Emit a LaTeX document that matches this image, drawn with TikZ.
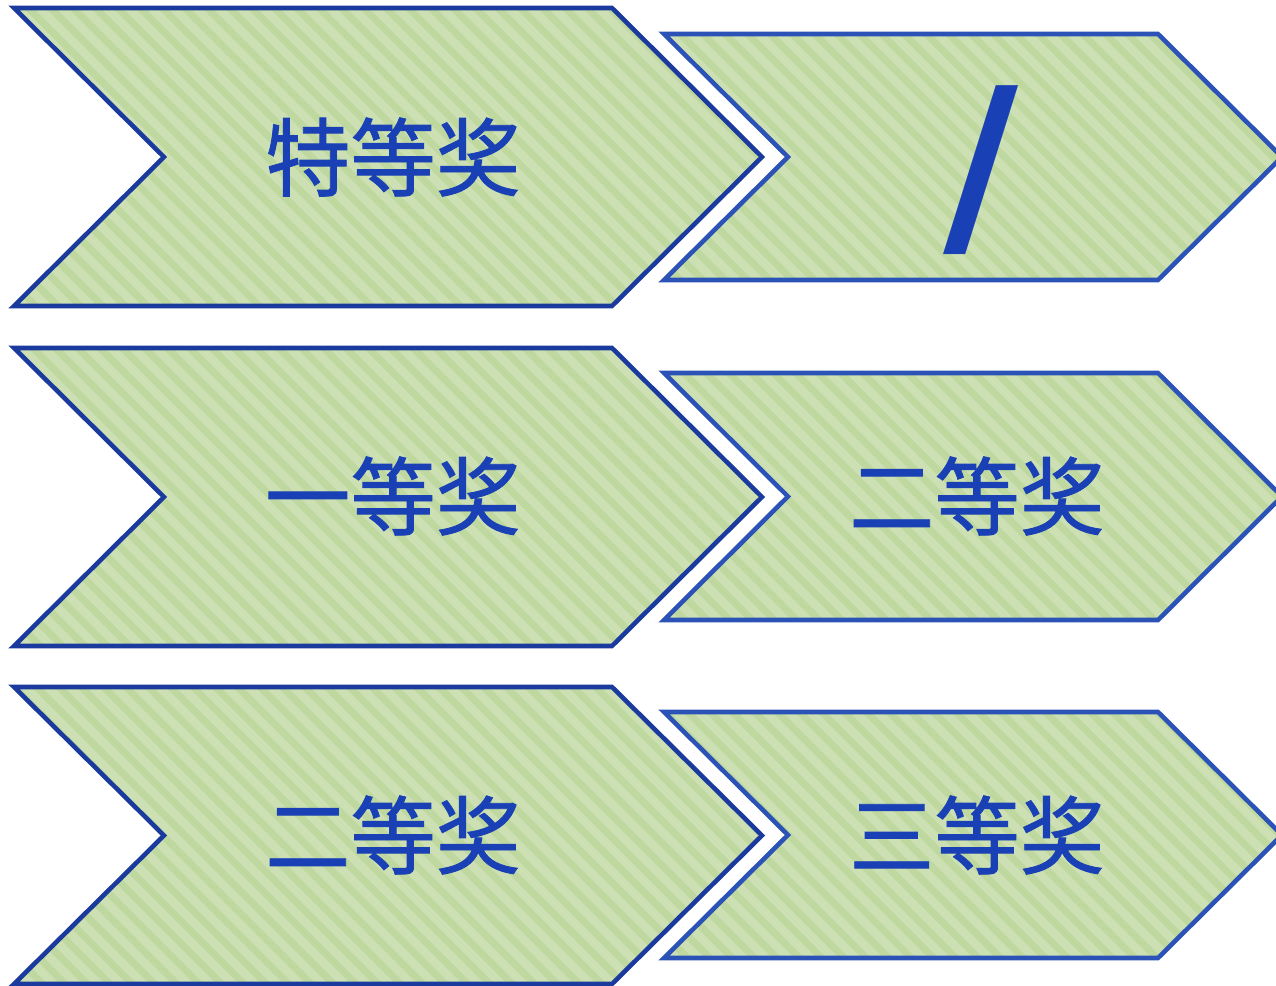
\documentclass[tikz,border=0pt]{standalone}
\usepackage{fontspec}
\newfontfamily\cjk[FakeBold=1]{Noto Sans CJK SC}
\newfontfamily\slashfont{DejaVu Sans}
\usetikzlibrary{patterns.meta}
\definecolor{lineleft}{HTML}{1B3A9E}
\definecolor{lineright}{HTML}{2B52B6}
\definecolor{prizetext}{HTML}{1A40B5}
\definecolor{greenbase}{HTML}{CCE0B3}
\definecolor{greenstripe}{HTML}{BFD8A0}
\tikzset{
  chev/.style={line width=2.6pt, line join=miter},
  prize/.style={text=prizetext, font=\cjk\fontsize{48.5pt}{50pt}\selectfont, inner sep=0pt}
}
% #1 style, #2 left x, #3 right x, #4 top y, #5 bottom y, #6 notch depth
\newcommand\chevron[6]{
  \path[fill=greenbase] (#2,#4) -- (#3,#4) -- ($(#3,#4)!.5!(#3,#5)+(#6,0)$) -- (#3,#5) -- (#2,#5) -- ($(#2,#4)!.5!(#2,#5)+(#6,0)$) -- cycle;
  \path[pattern={Lines[angle=-45,distance=9pt,line width=4pt]}, pattern color=greenstripe]
    (#2,#4) -- (#3,#4) -- ($(#3,#4)!.5!(#3,#5)+(#6,0)$) -- (#3,#5) -- (#2,#5) -- ($(#2,#4)!.5!(#2,#5)+(#6,0)$) -- cycle;
  \draw[chev,#1] (#2,#4) -- (#3,#4) -- ($(#3,#4)!.5!(#3,#5)+(#6,0)$) -- (#3,#5) -- (#2,#5) -- ($(#2,#4)!.5!(#2,#5)+(#6,0)$) -- cycle;
}
\usetikzlibrary{calc}
\begin{document}
\begin{tikzpicture}[x=0.02cm,y=-0.02cm]
  \useasboundingbox (0,0) rectangle (1276,986);
  % left column
  \chevron{lineleft}{14}{612}{8}{306}{150}
  \chevron{lineleft}{14}{612}{348}{646}{150}
  \chevron{lineleft}{14}{612}{687}{984}{150}
  % right column
  \chevron{lineright}{664}{1158}{34}{280}{124}
  \chevron{lineright}{664}{1158}{373}{620}{124}
  \chevron{lineright}{664}{1158}{712}{958}{124}
  % labels
  \node[prize] (special) at (393,157) {特等奖};
  \node[prize] (first)   at (393,496) {一等奖};
  \node[prize] (secondl) at (393,835) {二等奖};
  \node[prize, font=\slashfont\bfseries\fontsize{117pt}{117pt}\selectfont] (none) at (981,170) {/};
  \node[prize] (secondr) at (977,496) {二等奖};
  \node[prize] (third)   at (977,835) {三等奖};
\end{tikzpicture}
\end{document}
